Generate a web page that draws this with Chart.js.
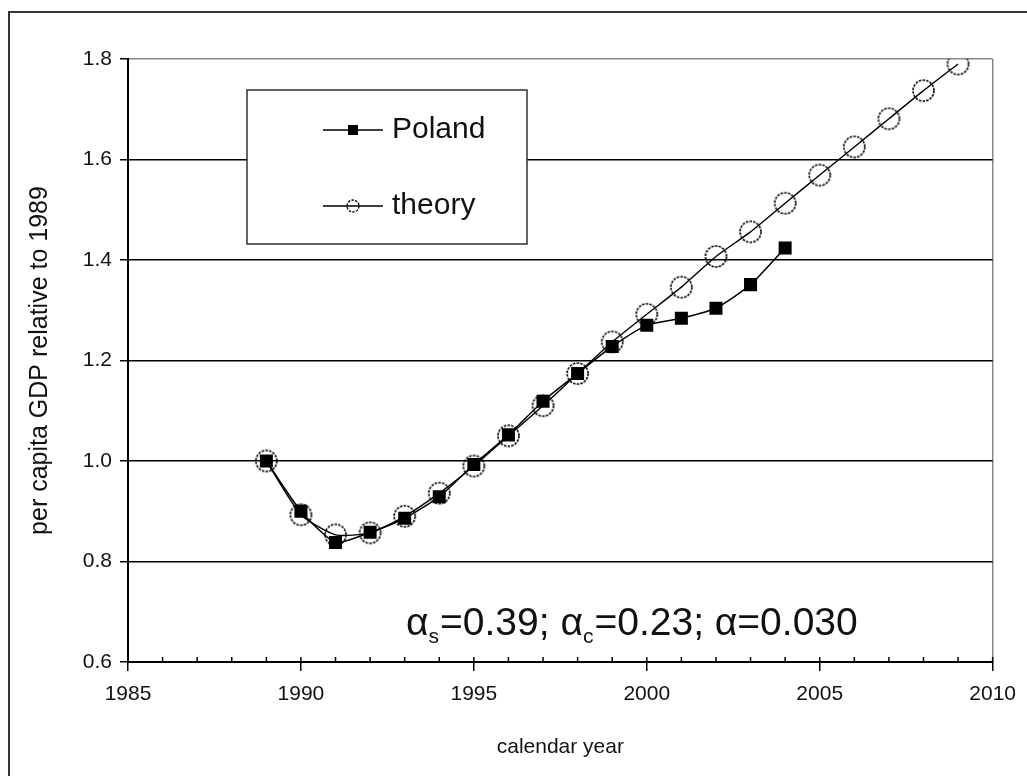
<!DOCTYPE html>
<html>
<head>
<meta charset="utf-8">
<script src="https://cdn.jsdelivr.net/npm/chart.js@4"></script>
<style>
  body { margin: 0; background: #fff; }
</style>
</head>
<body>
<canvas id="gdp-chart" width="1027" height="776"></canvas>
<script>
// values
const polandYears = [1989, 1990, 1991, 1992, 1993, 1994, 1995, 1996, 1997, 1998, 1999, 2000, 2001, 2002, 2003, 2004]
const polandGdp = [1.00, 0.90, 0.838, 0.858, 0.886, 0.929, 0.993, 1.052, 1.119, 1.174, 1.228, 1.270, 1.284, 1.304, 1.351, 1.424]
const theoryYears = [1989, 1990, 1991, 1992, 1993, 1994, 1995, 1996, 1997, 1998, 1999, 2000, 2001, 2002, 2003, 2004, 2005, 2006, 2007, 2008, 2009]
const theoryGdp = [1.00, 0.893, 0.853, 0.857, 0.890, 0.936, 0.990, 1.050, 1.110, 1.174, 1.237, 1.292, 1.346, 1.407, 1.456, 1.513, 1.569, 1.625, 1.681, 1.737, 1.790]
const seriesLabels = ['Poland', 'theory']
const xTitle = 'calendar year'
const yTitle = 'per capita GDP relative to 1989'
// annotation pieces: [text, isSubscript]
const noteParts = [['\u03B1', false], ['s', true], ['=0.39; ', false], ['\u03B1', false], ['c', true], ['=0.23; ', false], ['\u03B1', false], ['=0.030', false]]

const FONT = '"Liberation Sans", Arial, sans-serif'

// dashed open circle used as the theory marker
function dashedCircle(r, w) {
  const c = document.createElement('canvas')
  const s = Math.ceil(r * 2 + 4)
  c.width = s
  c.height = s
  const g = c.getContext('2d')
  g.strokeStyle = '#000'
  g.lineWidth = w
  g.setLineDash([2.5, 1.2])
  g.beginPath()
  g.arc(s / 2, s / 2, r, 0, Math.PI * 2)
  g.stroke()
  return c
}
const bigCircle = dashedCircle(10.5, 1.6)
const smallCircle = dashedCircle(6, 1.3)

const pageFrame = {
  id: 'pageFrame',
  beforeDraw(chart) {
    const ctx = chart.ctx
    ctx.save()
    ctx.fillStyle = '#fff'
    ctx.fillRect(0, 0, chart.width, chart.height)
    ctx.strokeStyle = '#333'
    ctx.lineWidth = 2
    ctx.strokeRect(9, 12, 1200, 1000)
    ctx.restore()
  }
}

const legendBox = {
  id: 'legendBox',
  beforeDatasetsDraw(chart) {
    const ctx = chart.ctx
    const a = chart.chartArea
    const bx = a.left + 119, by = 90, bw = 280, bh = 154
    ctx.save()
    ctx.fillStyle = '#fff'
    ctx.fillRect(bx, by, bw, bh)
    ctx.strokeStyle = '#333'
    ctx.lineWidth = 1.5
    ctx.strokeRect(bx, by, bw, bh)
    chart.data.datasets.forEach((ds, i) => {
      const cy = by + 40 + i * 76
      const x0 = bx + 76, x1 = bx + 136
      ctx.strokeStyle = '#000'
      ctx.lineWidth = 1.4
      ctx.beginPath()
      ctx.moveTo(x0, cy)
      ctx.lineTo(x1, cy)
      ctx.stroke()
      const mx = (x0 + x1) / 2
      if (i === 0) {
        ctx.fillStyle = '#000'
        ctx.fillRect(mx - 5, cy - 5, 10, 10)
      } else {
        ctx.drawImage(smallCircle, mx - smallCircle.width / 2, cy - smallCircle.height / 2)
      }
      ctx.fillStyle = '#111'
      ctx.font = '30px ' + FONT
      ctx.textBaseline = 'middle'
      ctx.fillText(ds.label, x1 + 9, cy)
    })
    ctx.restore()
  }
}

const extras = {
  id: 'extras',
  afterDraw(chart) {
    const ctx = chart.ctx
    const a = chart.chartArea
    const xs = chart.scales.x
    ctx.save()
    // small inner ticks every year
    ctx.strokeStyle = '#000'
    ctx.lineWidth = 1.5
    for (let yr = xs.min; yr <= xs.max; yr++) {
      const px = xs.getPixelForValue(yr)
      ctx.beginPath()
      ctx.moveTo(px, a.bottom)
      ctx.lineTo(px, a.bottom - 5)
      ctx.stroke()
    }
    // parameter note
    let x = a.left + 278
    const base = a.bottom - 27
    ctx.fillStyle = '#111'
    ctx.textBaseline = 'alphabetic'
    noteParts.forEach(([t, sub]) => {
      ctx.font = (sub ? '21px ' : '39px ') + FONT
      ctx.fillText(t, x, sub ? base + 8 : base)
      x += ctx.measureText(t).width + (sub ? 1 : 0)
    })
    ctx.restore()
  }
}

const chart = document.getElementById('gdp-chart')
var gdpChart = new Chart(chart,
  {
    type: 'line',
    data: {
      datasets: [{
        label: seriesLabels[0],
        data: polandYears.map((yr, i) => ({ x: yr, y: polandGdp[i] })),
        borderColor: '#000',
        backgroundColor: '#000',
        borderWidth: 1.5,
        pointStyle: 'rect',
        pointRadius: 9.2,
        pointBackgroundColor: '#000',
        pointBorderWidth: 0,
        tension: 0.2,
      }, {
        label: seriesLabels[1],
        data: theoryYears.map((yr, i) => ({ x: yr, y: theoryGdp[i] })),
        borderColor: '#000',
        backgroundColor: 'transparent',
        borderWidth: 1.4,
        pointStyle: bigCircle,
        pointRadius: 11,
        tension: 0.2,
      }]
    },
    options: {
      responsive: false,
      animation: false,
      devicePixelRatio: 1,
      layout: { padding: { top: 59, right: 33, left: 0, bottom: 0 } },
      scales: {
        x: {
          type: 'linear',
          min: 1985,
          max: 2010,
          ticks: {
            stepSize: 5,
            maxRotation: 0,
            padding: 11,
            color: '#111',
            font: { family: FONT, size: 21 },
            callback: v => String(v)
          },
          grid: {
            color: c => (c.tick && c.tick.value === 2010) ? '#888' : 'transparent',
            lineWidth: 1.5,
            tickLength: 9,
            tickColor: '#000',
            tickWidth: 1.5
          },
          border: { color: '#000', width: 2 },
          title: {
            display: true,
            text: xTitle,
            color: '#111',
            font: { family: FONT, size: 21 },
            padding: { top: 0, bottom: 16 }
          },
          afterFit: s => { s.height = 114 }
        },
        y: {
          min: 0.6,
          max: 1.8,
          ticks: {
            stepSize: 0.2,
            padding: 8,
            color: '#111',
            font: { family: FONT, size: 21 },
            callback: v => v.toFixed(1)
          },
          grid: {
            color: c => (c.tick && Math.abs(c.tick.value - 1.8) < 1e-6) ? '#888' : '#000',
            lineWidth: 1.5,
            tickLength: 8,
            tickColor: '#000',
            tickWidth: 1.5
          },
          border: { color: '#000', width: 2 },
          title: {
            display: true,
            text: yTitle,
            color: '#111',
            font: { family: FONT, size: 25 },
            padding: { top: 25, bottom: 0 }
          },
          afterFit: s => { s.width = 128 }
        }
      },
      plugins: {
        legend: { display: false },
        tooltip: { enabled: false }
      }
    },
    plugins: [pageFrame, legendBox, extras]
  }
)
</script>
</body>
</html>
